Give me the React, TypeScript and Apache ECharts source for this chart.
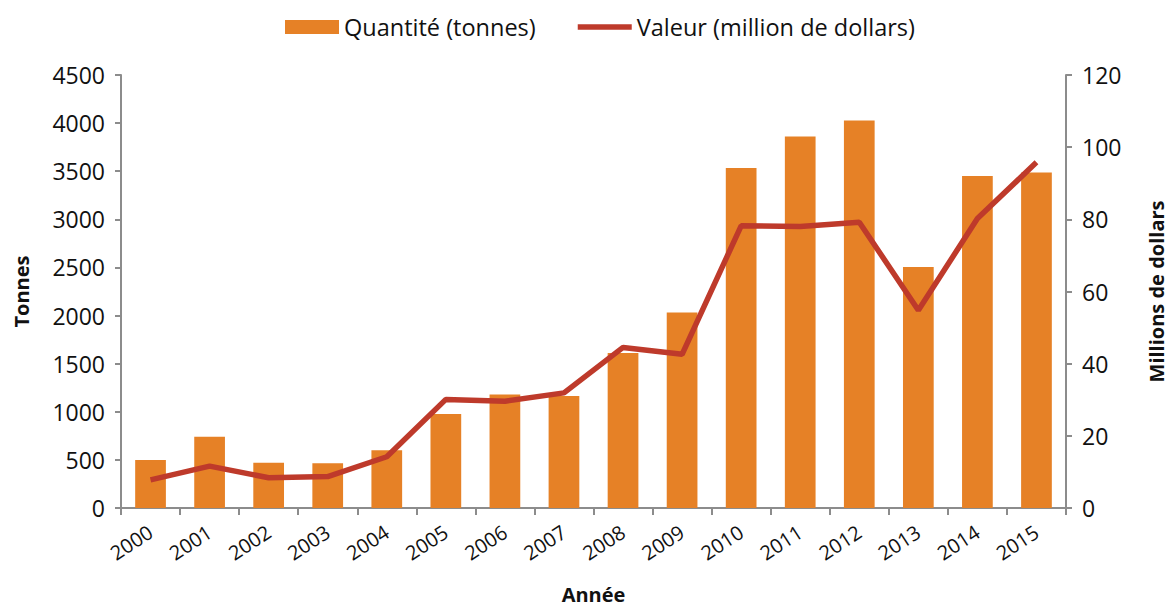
import React, { useEffect, useRef } from "react";
import * as echarts from "echarts";

const years = ["2000","2001","2002","2003","2004","2005","2006","2007","2008","2009","2010","2011","2012","2013","2014","2015"];
const quantite = [500, 740, 470, 465, 600, 976, 1180, 1163, 1612, 2031, 3533, 3862, 4028, 2505, 3450, 3488];
const valeur = [7.8, 11.6, 8.4, 8.7, 14.2, 30.1, 29.6, 31.9, 44.5, 42.6, 78.2, 78.0, 79.2, 54.8, 80.2, 95.8];

const FONT = "'Open Sans', sans-serif";
const AXIS_COLOR = "#8c8c8c";

export default function App() {
  const ref = useRef<HTMLDivElement>(null);
  useEffect(() => {
    if (!ref.current) return;
    const chart = echarts.init(ref.current, null, { renderer: "svg" });
    chart.setOption({
      animation: false,
      textStyle: { fontFamily: FONT },
      legend: {
        top: 10,
        left: 280,
        itemGap: 42,
        itemWidth: 54,
        itemHeight: 14,
        itemStyle: { borderWidth: 0 },
        textStyle: { fontSize: 23.5, color: "#111", fontFamily: FONT },
        data: [
          { name: "Quantité (tonnes)", icon: "rect" },
          { name: "Valeur (million de dollars)", icon: "path://M0,0 L60,0 L60,6 L0,6 Z" },
        ],
      },
      grid: { left: 121, right: 102, top: 75, bottom: 100, containLabel: false, outerBoundsMode: "none" },
      xAxis: {
        type: "category",
        data: years,
        boundaryGap: true,
        name: "Année",
        nameLocation: "middle",
        nameGap: 76,
        nameTextStyle: { fontSize: 20, fontWeight: "bold", color: "#111", fontFamily: FONT },
        axisLine: { lineStyle: { color: AXIS_COLOR, width: 2 } },
        axisTick: { show: true, length: 7, lineStyle: { color: AXIS_COLOR, width: 2 } },
        axisLabel: { rotate: 33, fontSize: 20, color: "#111", margin: 22, fontFamily: FONT },
      },
      yAxis: [
        {
          type: "value",
          min: 0,
          max: 4500,
          interval: 500,
          name: "Tonnes",
          nameLocation: "middle",
          nameRotate: 90,
          nameGap: 90,
          nameTextStyle: { fontSize: 20, fontWeight: "bold", color: "#111", fontFamily: FONT },
          axisLine: { show: true, lineStyle: { color: AXIS_COLOR, width: 2 } },
          axisTick: { show: true, length: 6, lineStyle: { color: AXIS_COLOR, width: 2 } },
          axisLabel: { fontSize: 23, color: "#111", margin: 16, fontFamily: FONT, formatter: (v: number) => String(v) },
          splitLine: { show: false },
        },
        {
          type: "value",
          min: 0,
          max: 120,
          interval: 20,
          position: "right",
          name: "Millions de dollars",
          nameLocation: "middle",
          nameRotate: 90,
          nameGap: 80,
          nameTextStyle: { fontSize: 20, fontWeight: "bold", color: "#111", fontFamily: FONT },
          axisLine: { show: true, lineStyle: { color: AXIS_COLOR, width: 2 } },
          axisTick: { show: true, length: 6, lineStyle: { color: AXIS_COLOR, width: 2 } },
          axisLabel: { fontSize: 23, color: "#111", margin: 16, fontFamily: FONT, formatter: (v: number) => String(v) },
          splitLine: { show: false },
        },
      ],
      series: [
        {
          name: "Quantité (tonnes)",
          type: "bar",
          data: quantite,
          yAxisIndex: 0,
          barWidth: "52%",
          itemStyle: { color: "#E68126" },
        },
        {
          name: "Valeur (million de dollars)",
          type: "line",
          data: valeur,
          yAxisIndex: 1,
          showSymbol: false,
          symbol: "none",
          lineStyle: { color: "#BE3A2B", width: 5.5 },
          itemStyle: { color: "#BE3A2B" },
        },
      ],
    });
    return () => chart.dispose();
  }, []);
  return (
    <div
      ref={ref}
      style={{ position: "absolute", left: 0, top: 0, width: 1168, height: 608 }}
    />
  );
}
